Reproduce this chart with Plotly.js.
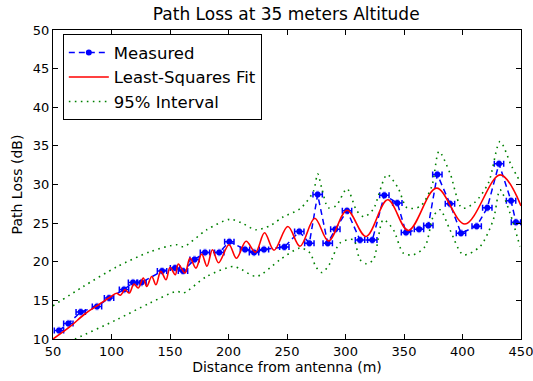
<!DOCTYPE html>
<html>
<head>
<meta charset="utf-8">
<script src="https://cdn.plot.ly/plotly-3.0.1.min.js"></script>
<style>html,body{margin:0;padding:0;background:#fff;}#chart{width:533px;height:381px;}</style>
</head>
<body>
<div id="chart"></div>
<script>
// Measured points
const measDist = [55.1, 63.1, 73.7, 87.6, 97.9, 110.7, 118.4, 125.6, 143.2, 154.3, 161.1, 171.0, 179.9, 192.1, 200.7, 214.1, 221.8, 230.3, 247.7, 260.5, 269.1, 276.2, 284.8, 291.3, 301.3, 312.4, 322.9, 333.2, 344.3, 351.7, 362.8, 370.8, 378.5, 389.3, 398.7, 412.1, 421.2, 431.2, 441.5, 445.7];
const measLoss = [11.1, 12.0, 13.5, 14.2, 15.3, 16.4, 17.3, 17.3, 18.8, 19.2, 18.8, 20.3, 21.2, 21.2, 22.6, 21.6, 21.2, 21.6, 21.9, 23.9, 22.4, 28.7, 22.4, 24.2, 26.6, 22.8, 22.8, 28.6, 27.6, 23.8, 24.2, 24.7, 31.3, 27.5, 23.7, 24.6, 27.0, 32.7, 27.9, 25.1];
const measXErr = 4;
const measYErr = 0.5;

// Least-squares fit (read at extrema of the curve)
const fitDist = [50, 64.5, 77.4, 90.2, 98.7, 104.3, 107.7, 111.5, 115.2, 119.2, 122.9, 127.2, 130.1, 134.4, 138.0, 142.1, 146.6, 150.0, 154.5, 157.1, 162.8, 167.1, 172.2, 177.1, 181.6, 186.3, 191.5, 200.4, 206.8, 215.0, 223.1, 230.8, 238.9, 250.7, 261.1, 273.7, 285.5, 301.3, 317.5, 336.1, 353.7, 377.8, 402.1, 432.1, 450];
const fitLoss = [10.0, 11.59, 13.27, 14.56, 15.41, 15.93, 15.67, 16.38, 15.95, 17.12, 16.60, 17.89, 16.80, 18.10, 17.02, 18.75, 17.67, 19.26, 18.32, 19.70, 18.54, 20.48, 19.18, 21.0, 19.42, 21.55, 19.87, 22.2, 20.45, 22.65, 21.23, 23.75, 21.49, 24.57, 22.0, 25.63, 22.68, 26.66, 23.27, 28.02, 24.05, 29.53, 24.88, 31.25, 27.24];

// 95% interval bounds
const upDist = [50, 75.6, 104.7, 132.9, 155.7, 161.4, 181.4, 201.3, 211.5, 223.5, 235.5, 246.6, 261.1, 272.5, 276.2, 279.7, 285.3, 291.9, 301.3, 309.6, 315.8, 323.5, 335.5, 344.9, 352.6, 363.7, 373.7, 379.9, 389.3, 399.6, 409.8, 422.1, 432.1, 442.1, 450];
const upLoss = [14.3, 16.77, 19.35, 21.29, 22.2, 21.94, 24.14, 25.5, 25.0, 24.14, 24.66, 25.8, 26.86, 29.09, 31.38, 29.53, 26.99, 27.24, 29.44, 26.6, 25.82, 26.73, 31.26, 29.57, 26.99, 27.15, 29.74, 34.27, 31.47, 26.95, 27.59, 30.18, 35.56, 32.33, 30.2];
const loDist = [50, 68.8, 104.4, 132.9, 155.7, 161.4, 181.4, 204.1, 211.3, 224.1, 244.0, 261.1, 269.7, 274.5, 279.9, 286.0, 295.3, 306.7, 312.4, 318.1, 323.8, 332.3, 340.9, 349.4, 358.0, 368.0, 375.0, 380.8, 389.3, 400.7, 415.0, 426.3, 432.1, 440.6, 449.1];
const loLoss = [8.75, 10.0, 12.5, 14.66, 16.16, 15.95, 18.1, 19.39, 18.97, 18.1, 20.26, 21.77, 21.13, 19.4, 18.6, 19.6, 22.42, 22.85, 20.26, 19.74, 20.26, 25.43, 24.14, 21.13, 20.9, 21.98, 25.86, 26.73, 24.14, 20.9, 21.98, 25.43, 29.31, 26.3, 21.98];

const xTicks = [50, 100, 150, 200, 250, 300, 350, 400, 450];
const yTicks = [10, 15, 20, 25, 30, 35, 40, 45, 50];

const font = 'DejaVu Sans, sans-serif';

const traces = [
  {
    x: measDist, y: measLoss, type: 'scatter', mode: 'lines+markers', name: 'Measured',
    line: {color: '#0000ff', width: 1.5, dash: '6px,4px'},
    marker: {color: '#0000ff', size: 6, symbol: 'circle'},
    error_x: {type: 'constant', value: measXErr, color: '#0000ff', thickness: 1.5, width: 3},
    error_y: {type: 'constant', value: measYErr, color: 'rgba(60,60,255,0.4)', thickness: 3, width: 0}
  },
  {
    x: fitDist, y: fitLoss, type: 'scatter', mode: 'lines', name: 'Least-Squares Fit',
    line: {color: '#ff0000', width: 1.6, shape: 'spline', smoothing: 1.0}
  },
  {
    x: upDist, y: upLoss, type: 'scatter', mode: 'lines', name: '95% Interval',
    line: {color: '#008000', width: 1.6, dash: '1.6px,4.4px', shape: 'spline', smoothing: 0.8}
  },
  {
    x: loDist, y: loLoss, type: 'scatter', mode: 'lines', name: '95% Interval', showlegend: false,
    line: {color: '#008000', width: 1.6, dash: '1.6px,4.4px', shape: 'spline', smoothing: 0.8}
  }
];

const axisCommon = {
  showline: true, linecolor: '#000', linewidth: 1, mirror: 'ticks',
  ticks: 'inside', ticklen: 5, tickwidth: 1, tickcolor: '#000',
  showgrid: false, zeroline: false, automargin: false,
  ticklabeloverflow: 'allow',
  tickfont: {family: font, size: 13, color: '#000'}
};

const layout = {
  width: 533, height: 381,
  margin: {l: 53, r: 12, t: 30, b: 42},
  paper_bgcolor: '#fff', plot_bgcolor: '#fff',
  title: {text: 'Path Loss at 35 meters Altitude', font: {family: font, size: 17, color: '#000'}, x: 0.537, xanchor: 'center', y: 0.962, yanchor: 'middle'},
  xaxis: Object.assign({}, axisCommon, {
    range: [50, 450], tickvals: xTicks, ticktext: xTicks.map(String),
    title: {text: 'Distance from antenna (m)', font: {family: font, size: 14, color: '#000'}, standoff: 4}
  }),
  yaxis: Object.assign({}, axisCommon, {
    range: [10, 50], tickvals: yTicks, ticktext: yTicks.map(String),
    title: {text: 'Path Loss (dB)', font: {family: font, size: 14, color: '#000'}, standoff: 6}
  }),
  showlegend: true,
  legend: {
    x: 0.021, y: 0.986, xanchor: 'left', yanchor: 'top',
    bgcolor: '#fff', bordercolor: '#000', borderwidth: 1,
    font: {family: font, size: 16.5, color: '#000'},
    tracegroupgap: 0, itemwidth: 40
  }
};

Plotly.newPlot('chart', traces, layout, {displayModeBar: false, staticPlot: true});
</script>
</body>
</html>
